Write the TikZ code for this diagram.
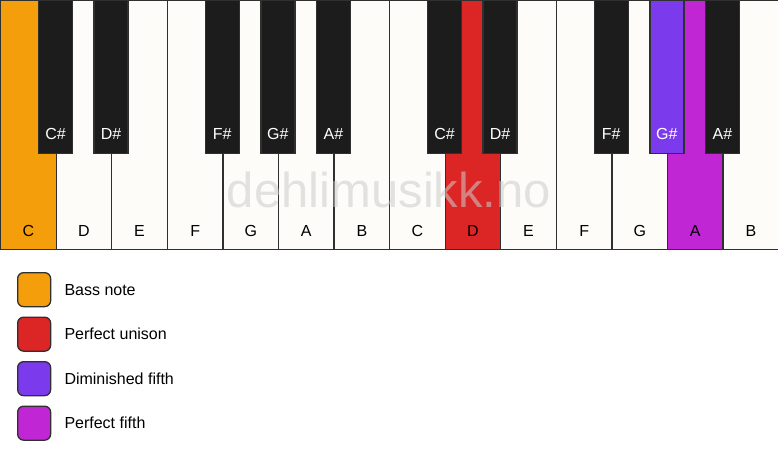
\documentclass[tikz,border=0pt]{standalone}
\usepackage{fontspec}
\setmainfont{Liberation Sans}
\usepackage{tikz}
\usetikzlibrary{positioning}

\definecolor{keyWhite}{HTML}{FDFCF8}
\definecolor{keyBlack}{HTML}{1C1C1C}
\definecolor{keyLine}{HTML}{303030}
\definecolor{bassCol}{HTML}{F59E0B}
\definecolor{unisonCol}{HTML}{DC2626}
\definecolor{dimCol}{HTML}{7C3AED}
\definecolor{fifthCol}{HTML}{C026D3}

\begin{document}
\begin{tikzpicture}[x=1pt, y=-1pt, inner sep=2pt]
            \useasboundingbox (0,0) rectangle (778,461);

            \tikzstyle{whiteKey}=[draw=keyLine, line width=1.3pt, fill=keyWhite, minimum width=55.57pt, minimum height=249pt, anchor=north west, inner sep=0pt];
            \tikzstyle{blackKey}=[draw=keyLine, line width=1.3pt, fill=keyBlack, minimum width=34pt, minimum height=153pt, anchor=north, inner sep=0pt];
            \tikzstyle{keyName}=[font=\fontsize{16}{19}\selectfont, text=black];
            \tikzstyle{sharpName}=[font=\fontsize{16}{19}\selectfont, text=white];
            \tikzstyle{legBox}=[draw=keyLine, line width=1.3pt, rounded corners=6pt, minimum width=33pt, minimum height=34pt, inner sep=0pt];
            \tikzstyle{legText}=[font=\fontsize{16}{19}\selectfont, anchor=west];

            % white keys
            \node[whiteKey, fill=bassCol] (wC1) at (0,0) {};
            \node[whiteKey] (wD1) at (55.57,0) {};
            \node[whiteKey] (wE1) at (111.14,0) {};
            \node[whiteKey] (wF1) at (166.71,0) {};
            \node[whiteKey] (wG1) at (222.29,0) {};
            \node[whiteKey] (wA1) at (277.86,0) {};
            \node[whiteKey] (wB1) at (333.43,0) {};
            \node[whiteKey] (wC2) at (389,0) {};
            \node[whiteKey, fill=unisonCol] (wD2) at (444.57,0) {};
            \node[whiteKey] (wE2) at (500.14,0) {};
            \node[whiteKey] (wF2) at (555.71,0) {};
            \node[whiteKey] (wG2) at (611.29,0) {};
            \node[whiteKey, fill=fifthCol] (wA2) at (666.86,0) {};
            \node[whiteKey] (wB2) at (722.43,0) {};

            \node[keyName] (nC1) at ([yshift=19pt]wC1.south) {C};
            \node[keyName] (nD1) at ([yshift=19pt]wD1.south) {D};
            \node[keyName] (nE1) at ([yshift=19pt]wE1.south) {E};
            \node[keyName] (nF1) at ([yshift=19pt]wF1.south) {F};
            \node[keyName] (nG1) at ([yshift=19pt]wG1.south) {G};
            \node[keyName] (nA1) at ([yshift=19pt]wA1.south) {A};
            \node[keyName] (nB1) at ([yshift=19pt]wB1.south) {B};
            \node[keyName] (nC2) at ([yshift=19pt]wC2.south) {C};
            \node[keyName] (nD2) at ([yshift=19pt]wD2.south) {D};
            \node[keyName] (nE2) at ([yshift=19pt]wE2.south) {E};
            \node[keyName] (nF2) at ([yshift=19pt]wF2.south) {F};
            \node[keyName] (nG2) at ([yshift=19pt]wG2.south) {G};
            \node[keyName] (nA2) at ([yshift=19pt]wA2.south) {A};
            \node[keyName] (nB2) at ([yshift=19pt]wB2.south) {B};

            % black keys
            \node[blackKey] (bCs1) at (wD1.north west) {};
            \node[blackKey] (bDs1) at (wE1.north west) {};
            \node[blackKey] (bFs1) at (wG1.north west) {};
            \node[blackKey] (bGs1) at (wA1.north west) {};
            \node[blackKey] (bAs1) at (wB1.north west) {};
            \node[blackKey] (bCs2) at (wD2.north west) {};
            \node[blackKey] (bDs2) at (wE2.north west) {};
            \node[blackKey] (bFs2) at (wG2.north west) {};
            \node[blackKey, fill=dimCol] (bGs2) at (wA2.north west) {};
            \node[blackKey] (bAs2) at (wB2.north west) {};

            \node[sharpName] (nCs1) at ([yshift=20pt]bCs1.south) {C\#};
            \node[sharpName] (nDs1) at ([yshift=20pt]bDs1.south) {D\#};
            \node[sharpName] (nFs1) at ([yshift=20pt]bFs1.south) {F\#};
            \node[sharpName] (nGs1) at ([yshift=20pt]bGs1.south) {G\#};
            \node[sharpName] (nAs1) at ([yshift=20pt]bAs1.south) {A\#};
            \node[sharpName] (nCs2) at ([yshift=20pt]bCs2.south) {C\#};
            \node[sharpName] (nDs2) at ([yshift=20pt]bDs2.south) {D\#};
            \node[sharpName] (nFs2) at ([yshift=20pt]bFs2.south) {F\#};
            \node[sharpName] (nGs2) at ([yshift=20pt]bGs2.south) {G\#};
            \node[sharpName] (nAs2) at ([yshift=20pt]bAs2.south) {A\#};

            % watermark
            \node[font=\fontsize{49}{58}\selectfont, text=black!20, text opacity=0.55, anchor=base] (wmark) at (389,207) {dehlimusikk.no};

            % legend
            \node[legBox, fill=bassCol, anchor=north west] (lgBass) at (17,272) {};
            \node[legBox, fill=unisonCol, below=9.2pt of lgBass] (lgUnison) {};
            \node[legBox, fill=dimCol, below=9.2pt of lgUnison] (lgDim) {};
            \node[legBox, fill=fifthCol, below=9.2pt of lgDim] (lgFifth) {};

            \node[legText, right=11pt of lgBass] (tBass) {Bass note};
            \node[legText, right=11pt of lgUnison] (tUnison) {Perfect unison};
            \node[legText, right=11pt of lgDim] (tDim) {Diminished fifth};
            \node[legText, right=11pt of lgFifth] (tFifth) {Perfect fifth};
         \end{tikzpicture}
\end{document}
